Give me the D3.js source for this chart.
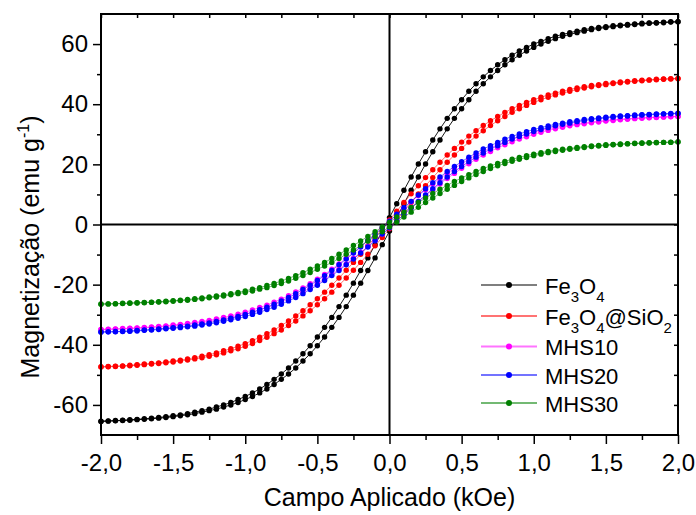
<!DOCTYPE html>
<html><head><meta charset="utf-8">
<script src="https://cdn.jsdelivr.net/npm/d3@7"></script>
<style>
body{margin:0;background:#fff}
svg{display:block}
text{font-family:"Liberation Sans",Arial,Helvetica,sans-serif;fill:#000}
</style>
</head><body>
<svg id="chart" width="696" height="515"></svg>
<script>
// Applied field (kOe)
const field = [-2,-1.95,-1.9,-1.85,-1.8,-1.75,-1.7,-1.65,-1.6,-1.55,-1.5,-1.45,-1.4,-1.35,-1.3,-1.25,-1.2,-1.15,-1.1,-1.05,
-1,-0.95,-0.9,-0.85,-0.8,-0.75,-0.7,-0.65,-0.6,-0.55,-0.5,-0.45,-0.4,-0.35,-0.3,-0.25,-0.2,-0.15,-0.1,-0.05,
0,0.05,0.1,0.15,0.2,0.25,0.3,0.35,0.4,0.45,0.5,0.55,0.6,0.65,0.7,0.75,0.8,0.85,0.9,0.95,
1,1.05,1.1,1.15,1.2,1.25,1.3,1.35,1.4,1.45,1.5,1.55,1.6,1.65,1.7,1.75,1.8,1.85,1.9,1.95,2];

// Magnetization (emu/g), descending-field branch and ascending-field branch
const fe3o4Desc = [-65.4,-65.3,-65.2,-65.1,-64.9,-64.8,-64.6,-64.4,-64.2,-63.9,
-63.6,-63.3,-62.9,-62.4,-61.9,-61.4,-60.7,-60.0,-59.2,-58.2,
-57.2,-56.0,-54.7,-53.2,-51.5,-49.7,-47.7,-45.4,-43.0,-40.3,
-37.4,-34.2,-30.9,-27.3,-23.5,-19.5,-15.3,-11.1,-6.7,-2.2,
2.3,6.9,11.4,15.8,20.1,24.2,28.1,31.8,35.3,38.5,
41.5,44.3,46.8,49.1,51.2,53.1,54.8,56.3,57.7,58.9,
60.0,60.9,61.8,62.6,63.2,63.8,64.3,64.8,65.2,65.5,
65.8,66.1,66.3,66.5,66.7,66.9,67.0,67.1,67.3,67.4,67.4];
const fe3o4Asc = [-65.5,-65.4,-65.3,-65.2,-65.1,-64.9,-64.8,-64.6,-64.4,-64.2,
-63.9,-63.6,-63.3,-62.9,-62.4,-61.9,-61.4,-60.7,-60.0,-59.2,
-58.2,-57.2,-56.0,-54.7,-53.2,-51.5,-49.7,-47.7,-45.4,-43.0,
-40.3,-37.4,-34.2,-30.9,-27.3,-23.5,-19.5,-15.3,-11.1,-6.7,
-2.2,
2.3,6.9,11.4,15.8,20.1,24.2,28.1,31.8,35.3,38.5,
41.5,44.3,46.8,49.1,51.2,53.1,54.8,56.3,57.7,58.9,
60.0,60.9,61.8,62.6,63.2,63.8,64.3,64.8,65.2,65.5,
65.8,66.1,66.3,66.5,66.7,66.9,67.0,67.1,67.3,67.4];

const sio2Desc = [-47.3,-47.2,-47.1,-47.0,-46.8,-46.6,-46.4,-46.2,-46.0,-45.7,
-45.4,-45.1,-44.7,-44.3,-43.8,-43.3,-42.7,-42.0,-41.3,-40.5,
-39.6,-38.6,-37.5,-36.3,-35.1,-33.6,-32.1,-30.4,-28.7,-26.7,
-24.7,-22.5,-20.2,-17.8,-15.2,-12.6,-9.9,-7.1,-4.3,-1.4,
1.5,4.4,7.3,10.2,12.9,15.6,18.2,20.7,23.1,25.3,
27.4,29.4,31.2,32.9,34.5,35.9,37.3,38.5,39.6,40.6,
41.5,42.3,43.1,43.7,44.3,44.9,45.4,45.8,46.2,46.5,
46.9,47.1,47.4,47.6,47.8,48.0,48.1,48.3,48.4,48.5,48.6];
const sio2Asc = [-47.4,-47.3,-47.2,-47.1,-47.0,-46.8,-46.6,-46.4,-46.2,-46.0,
-45.7,-45.4,-45.1,-44.7,-44.3,-43.8,-43.3,-42.7,-42.0,-41.3,
-40.5,-39.6,-38.6,-37.5,-36.3,-35.1,-33.6,-32.1,-30.4,-28.7,
-26.7,-24.7,-22.5,-20.2,-17.8,-15.2,-12.6,-9.9,-7.1,-4.3,
-1.4,
1.5,4.4,7.3,10.2,12.9,15.6,18.2,20.7,23.1,25.3,
27.4,29.4,31.2,32.9,34.5,35.9,37.3,38.5,39.6,40.6,
41.5,42.3,43.1,43.7,44.3,44.9,45.4,45.8,46.2,46.5,
46.9,47.1,47.4,47.6,47.8,48.0,48.1,48.3,48.4,48.5];

const mhs10Desc = [-34.9,-34.8,-34.7,-34.6,-34.5,-34.4,-34.2,-34.1,-33.9,-33.7,
-33.4,-33.2,-32.9,-32.6,-32.2,-31.9,-31.4,-30.9,-30.4,-29.8,
-29.2,-28.4,-27.6,-26.8,-25.8,-24.8,-23.7,-22.4,-21.1,-19.7,
-18.2,-16.6,-14.9,-13.1,-11.2,-9.3,-7.3,-5.2,-3.2,-1.1,
1.1,3.3,5.4,7.5,9.6,11.5,13.5,15.3,17.0,18.7,
20.2,21.7,23.1,24.3,25.5,26.5,27.5,28.4,29.2,30.0,
30.7,31.3,31.8,32.3,32.8,33.2,33.5,33.8,34.1,34.4,
34.6,34.8,35.0,35.2,35.3,35.5,35.6,35.7,35.8,35.9,35.9];
const mhs10Asc = [-34.9,-34.9,-34.8,-34.7,-34.6,-34.5,-34.4,-34.2,-34.1,-33.9,
-33.7,-33.4,-33.2,-32.9,-32.6,-32.2,-31.9,-31.4,-30.9,-30.4,
-29.8,-29.2,-28.4,-27.6,-26.8,-25.8,-24.8,-23.7,-22.4,-21.1,
-19.7,-18.2,-16.6,-14.9,-13.1,-11.2,-9.3,-7.3,-5.2,-3.2,
-1.1,
1.1,3.3,5.4,7.5,9.6,11.5,13.5,15.3,17.0,18.7,
20.2,21.7,23.1,24.3,25.5,26.5,27.5,28.4,29.2,30.0,
30.7,31.3,31.8,32.3,32.8,33.2,33.5,33.8,34.1,34.4,
34.6,34.8,35.0,35.2,35.3,35.5,35.6,35.7,35.8,35.9];

const mhs20Desc = [-35.7,-35.7,-35.6,-35.5,-35.4,-35.2,-35.1,-34.9,-34.7,-34.5,
-34.3,-34.0,-33.8,-33.4,-33.1,-32.7,-32.2,-31.7,-31.2,-30.6,
-29.9,-29.2,-28.3,-27.5,-26.5,-25.4,-24.3,-23.0,-21.6,-20.2,
-18.6,-17.0,-15.3,-13.4,-11.5,-9.5,-7.5,-5.4,-3.2,-1.1,
1.1,3.4,5.6,7.7,9.8,11.9,13.9,15.8,17.6,19.3,
20.9,22.4,23.8,25.1,26.2,27.3,28.4,29.3,30.1,30.9,
31.6,32.2,32.8,33.3,33.7,34.2,34.5,34.9,35.2,35.4,
35.7,35.9,36.1,36.2,36.4,36.5,36.6,36.8,36.8,36.9,37.0];
const mhs20Asc = [-35.8,-35.7,-35.7,-35.6,-35.5,-35.4,-35.2,-35.1,-34.9,-34.7,
-34.5,-34.3,-34.0,-33.8,-33.4,-33.1,-32.7,-32.2,-31.7,-31.2,
-30.6,-29.9,-29.2,-28.3,-27.5,-26.5,-25.4,-24.3,-23.0,-21.6,
-20.2,-18.6,-17.0,-15.3,-13.4,-11.5,-9.5,-7.5,-5.4,-3.2,
-1.1,
1.1,3.4,5.6,7.7,9.8,11.9,13.9,15.8,17.6,19.3,
20.9,22.4,23.8,25.1,26.2,27.3,28.4,29.3,30.1,30.9,
31.6,32.2,32.8,33.3,33.7,34.2,34.5,34.9,35.2,35.4,
35.7,35.9,36.1,36.2,36.4,36.5,36.6,36.8,36.8,36.9];

const mhs30Desc = [-26.4,-26.4,-26.3,-26.2,-26.1,-26.0,-25.9,-25.8,-25.7,-25.5,
-25.3,-25.2,-24.9,-24.7,-24.4,-24.1,-23.8,-23.4,-23.0,-22.6,
-22.1,-21.5,-21.0,-20.3,-19.6,-18.8,-17.9,-17.0,-16.0,-14.9,
-13.8,-12.6,-11.3,-9.9,-8.5,-7.0,-5.5,-4.0,-2.4,-0.8,
0.8,2.5,4.1,5.7,7.3,8.8,10.3,11.7,13.0,14.3,
15.5,16.6,17.6,18.6,19.5,20.3,21.0,21.7,22.3,22.9,
23.4,23.9,24.3,24.7,25.0,25.3,25.6,25.9,26.1,26.3,
26.5,26.6,26.8,26.9,27.0,27.1,27.2,27.3,27.3,27.4,27.5];
const mhs30Asc = [-26.5,-26.4,-26.4,-26.3,-26.2,-26.1,-26.0,-25.9,-25.8,-25.7,
-25.5,-25.3,-25.2,-24.9,-24.7,-24.4,-24.1,-23.8,-23.4,-23.0,
-22.6,-22.1,-21.5,-21.0,-20.3,-19.6,-18.8,-17.9,-17.0,-16.0,
-14.9,-13.8,-12.6,-11.3,-9.9,-8.5,-7.0,-5.5,-4.0,-2.4,
-0.8,
0.8,2.5,4.1,5.7,7.3,8.8,10.3,11.7,13.0,14.3,
15.5,16.6,17.6,18.6,19.5,20.3,21.0,21.7,22.3,22.9,
23.4,23.9,24.3,24.7,25.0,25.3,25.6,25.9,26.1,26.3,
26.5,26.6,26.8,26.9,27.0,27.1,27.2,27.3,27.3,27.4];

const seriesKeys = ["Fe3O4","Fe3O4@SiO2","MHS10","MHS20","MHS30"];
const seriesColors = ["#000000","#ff0000","#ff00ff","#0000ff","#008000"];
const seriesDesc = [fe3o4Desc, sio2Desc, mhs10Desc, mhs20Desc, mhs30Desc];
const seriesAsc = [fe3o4Asc, sio2Asc, mhs10Asc, mhs20Asc, mhs30Asc];

const xTickValues = [-2,-1.5,-1,-0.5,0,0.5,1,1.5,2];
const xTickLabels = ["-2,0","-1,5","-1,0","-0,5","0,0","0,5","1,0","1,5","2,0"];
const xMinorValues = [-1.75,-1.25,-0.75,-0.25,0.25,0.75,1.25,1.75];
const yTickValues = [-60,-40,-20,0,20,40,60];
const yTickLabels = ["-60","-40","-20","0","20","40","60"];
const yMinorValues = [-50,-30,-10,10,30,50];
const xTitle = "Campo Aplicado (kOe)";

// ---------- layout ----------
const svg = d3.select("#chart");
const L = 101, R = 678, T = 14, B = 435;
const x = d3.scaleLinear().domain([-2, 2]).range([L, R]);
const y = d3.scaleLinear().domain([-70, 70]).range([B, T]);

// zero lines
svg.append("line").attr("x1", x(0)).attr("x2", x(0)).attr("y1", T).attr("y2", B)
  .attr("stroke", "#000").attr("stroke-width", 2);
svg.append("line").attr("x1", L).attr("x2", R).attr("y1", y(0)).attr("y2", y(0))
  .attr("stroke", "#000").attr("stroke-width", 2);

// data
const plot = svg.append("g");
const lineGen = d3.line().x(d => x(d[0])).y(d => y(d[1]));
seriesKeys.forEach((k, i) => {
  const g = plot.append("g");
  const branches = [seriesDesc[i], seriesAsc[i]].map(arr => field.map((f, j) => [f, arr[j]]));
  branches.forEach(pts => {
    g.append("path").attr("d", lineGen(pts)).attr("fill", "none")
      .attr("stroke", seriesColors[i]).attr("stroke-width", 1)
      .attr("stroke-opacity", i === 0 ? 0.9 : 0.55);
  });
  branches.forEach(pts => {
    g.selectAll(null).data(pts).enter().append("circle")
      .attr("cx", d => x(d[0])).attr("cy", d => y(d[1])).attr("r", 2.7)
      .attr("fill", seriesColors[i]);
  });
});

// axes
function styleAxis(g) {
  g.select(".domain").remove();
  g.selectAll(".tick line").attr("stroke", "#000").attr("stroke-width", 1.5);
  g.selectAll("text").attr("font-size", 24).attr("font-family", '"Liberation Sans",Arial,sans-serif').attr("fill", "#000");
}
svg.append("g").attr("transform", `translate(0,${B})`)
  .call(d3.axisBottom(x).tickValues(xTickValues).tickSize(9).tickPadding(10)
    .tickFormat((d, i) => xTickLabels[i])).call(styleAxis);
svg.append("g").attr("transform", `translate(0,${B})`)
  .call(d3.axisBottom(x).tickValues(xMinorValues).tickSize(5).tickFormat("")).call(styleAxis);
svg.append("g").attr("transform", `translate(${L},0)`)
  .call(d3.axisLeft(y).tickValues(yTickValues).tickSize(8).tickPadding(5)
    .tickFormat((d, i) => yTickLabels[i])).call(styleAxis);
svg.append("g").attr("transform", `translate(${L},0)`)
  .call(d3.axisLeft(y).tickValues(yMinorValues).tickSize(4).tickFormat("")).call(styleAxis);
svg.append("g").attr("transform", `translate(0,${T})`)
  .call(d3.axisBottom(x).tickValues(xTickValues.concat(xMinorValues)).tickSize(4).tickFormat("")).call(styleAxis);
svg.append("g").attr("transform", `translate(${R},0)`)
  .call(d3.axisLeft(y).tickValues(yTickValues.concat(yMinorValues)).tickSize(4).tickFormat("")).call(styleAxis);

// frame
svg.append("rect").attr("x", L).attr("y", T).attr("width", R - L).attr("height", B - T)
  .attr("fill", "none").attr("stroke", "#000").attr("stroke-width", 2);

// axis titles
svg.append("text").attr("x", (L + R) / 2).attr("y", 506).attr("text-anchor", "middle")
  .attr("font-size", 25).text(xTitle);
const yt = svg.append("text").attr("transform", "translate(39,247) rotate(-90)")
  .attr("text-anchor", "middle").attr("font-size", 25);
yt.append("tspan").text("Magnetização (emu g");
yt.append("tspan").attr("font-size", 16).attr("dy", -10).text("-1");
yt.append("tspan").attr("dy", 10).text(")");

// legend
const legendRows = [285, 316, 346.5, 375, 403];
const legendParts = [
  [["Fe",0],["3",1],["O",0],["4",1]],
  [["Fe",0],["3",1],["O",0],["4",1],["@SiO",0],["2",1]],
  [["MHS10",0]],
  [["MHS20",0]],
  [["MHS30",0]]
];
const leg = svg.append("g");
seriesKeys.forEach((k, i) => {
  const yy = legendRows[i];
  leg.append("line").attr("x1", 481).attr("x2", 537).attr("y1", yy).attr("y2", yy)
    .attr("stroke", seriesColors[i]).attr("stroke-width", i === 0 ? 1.2 : 2)
    .attr("stroke-opacity", i === 0 ? 1 : 0.55);
  leg.append("circle").attr("cx", 509).attr("cy", yy).attr("r", 3).attr("fill", seriesColors[i]);
  const t = leg.append("text").attr("x", 545).attr("y", yy + 8.5).attr("font-size", 22);
  let sub = 0;
  legendParts[i].forEach(([s, isSub]) => {
    const dy = isSub ? (sub ? 0 : 8) : (sub ? -8 : 0);
    t.append("tspan").attr("dy", dy).attr("font-size", isSub ? 15 : 22).text(s);
    sub = isSub;
  });
});
</script>
</body></html>
